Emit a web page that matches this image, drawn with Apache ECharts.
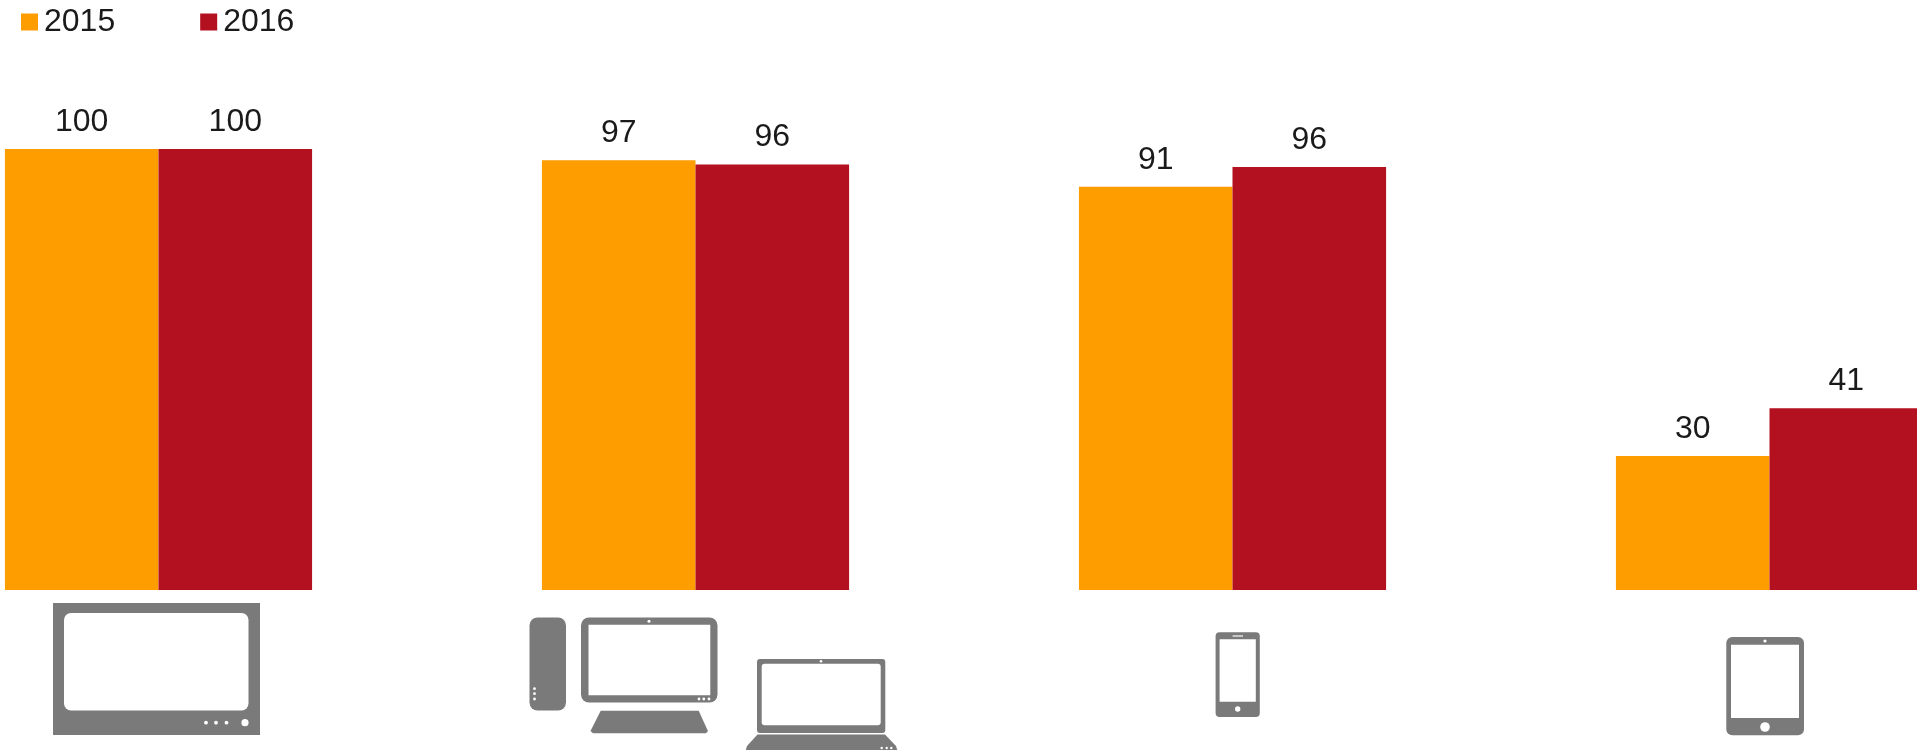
<!DOCTYPE html>
<html>
<head>
<meta charset="utf-8">
<style>html,body{margin:0;padding:0;background:#fff;overflow:hidden}#c{width:1917px;height:750px}</style>
<script src="https://cdn.jsdelivr.net/npm/echarts@6/dist/echarts.min.js"></script>
</head>
<body>
<div id="c"></div>
<script>
const categories = ['TV', 'Desktop / Laptop', 'Smartphone', 'Tablet'];
const values2015 = [100, 97.44, 91.45, 30.39];
const values2016 = [100, 96.49, 95.9, 41.2];
const seriesNames = ['2015', '2016'];
const ORANGE = '#FE9D00', RED = '#B31020', GREY = '#7A7A7A', INK = '#1A1A1A';

const rr = (x0, y0, x1, y1, r, fill) => ({type:'rect', silent:true,
  shape:{x:x0, y:y0, width:x1-x0, height:y1-y0, r}, style:{fill}});
const dot = (cx, cy, r, fill='#fff') => ({type:'circle', silent:true, shape:{cx, cy, r}, style:{fill}});
const poly = (points, fill) => ({type:'polygon', silent:true, shape:{points, smooth:0}, style:{fill}});

const icons = [
  // TV
  rr(53,603,260,735,0,GREY), rr(64,613,248.5,710.5,7,'#fff'),
  dot(206,722.7,1.9), dot(216,722.7,1.9), dot(226.5,722.7,1.9), dot(245,722.7,3.6),
  // Tower
  rr(529.5,617.5,566,710.5,8,GREY), dot(534.5,688.7,1.4), dot(534.5,693.7,1.4), dot(534.5,699,1.4),
  // Monitor
  rr(581,617.5,717.5,702.5,8,GREY), rr(588.5,624.7,710.3,695.3,0,'#fff'),
  dot(649,621.2,1.5), dot(699,699,1.4), dot(703.8,699,1.4), dot(709,699,1.4),
  // Monitor stand
  poly([[600.7,710.7],[698.7,710.7],[707,729],[708,731],[706,733.3],[593,733.3],[590.5,731],[591.5,729]],GREY),
  // Laptop
  rr(757,659,885.3,733,3,GREY), rr(761.7,663.7,880.7,725.3,3,'#fff'), dot(821,661.3,1.3),
  poly([[757.5,734.5],[885,734.5],[896,746],[897.5,751],[745.5,751],[747,746]],GREY),
  dot(881.7,748,1.2), dot(886.7,748,1.2), dot(891.3,748,1.2),
  // Phone
  rr(1215.6,632.3,1259.8,717,4,GREY), rr(1219.6,639.3,1255.8,701.7,0,'#fff'),
  rr(1232.6,635,1243,637,0,'#C8C8C8'), dot(1237.7,709,2.7),
  // Tablet
  rr(1726.3,637,1804,735.3,6,GREY), rr(1731,644.7,1799,718,0,'#fff'),
  dot(1765,641,1.6), dot(1765,727,4.8)
];

const labelStyle = {show:true, position:'top', distance:11, fontFamily:'Liberation Sans', fontSize:32, color:INK,
  formatter:p => Math.round(p.value)};

const chart = echarts.init(document.getElementById('c'), null, {renderer:'canvas', width:1917, height:750});
chart.setOption({
  animation:false,
  backgroundColor:'#fff',
  legend:{left:21, top:6, padding:0, itemWidth:17, itemHeight:17, itemGap:85, icon:'rect',
    data:seriesNames, textStyle:{fontFamily:'Liberation Sans', fontSize:32, color:INK, padding:[6,0,0,1]}},
  grid:{left:-110, top:149, width:2148, height:441, containLabel:false, outerBoundsMode:'none'},
  xAxis:{type:'category', data:categories, axisLine:{show:false}, axisTick:{show:false}, axisLabel:{show:false}},
  yAxis:{type:'value', min:0, max:100, show:false, splitLine:{show:false}},
  series:[
    {name:seriesNames[0], type:'bar', data:values2015, barGap:0, barCategoryGap:'42.8%', clip:false,
      itemStyle:{color:ORANGE}, label:labelStyle},
    {name:seriesNames[1], type:'bar', data:values2016, clip:false,
      itemStyle:{color:RED}, label:labelStyle}
  ],
  graphic:{elements:icons}
});
</script>
</body>
</html>
